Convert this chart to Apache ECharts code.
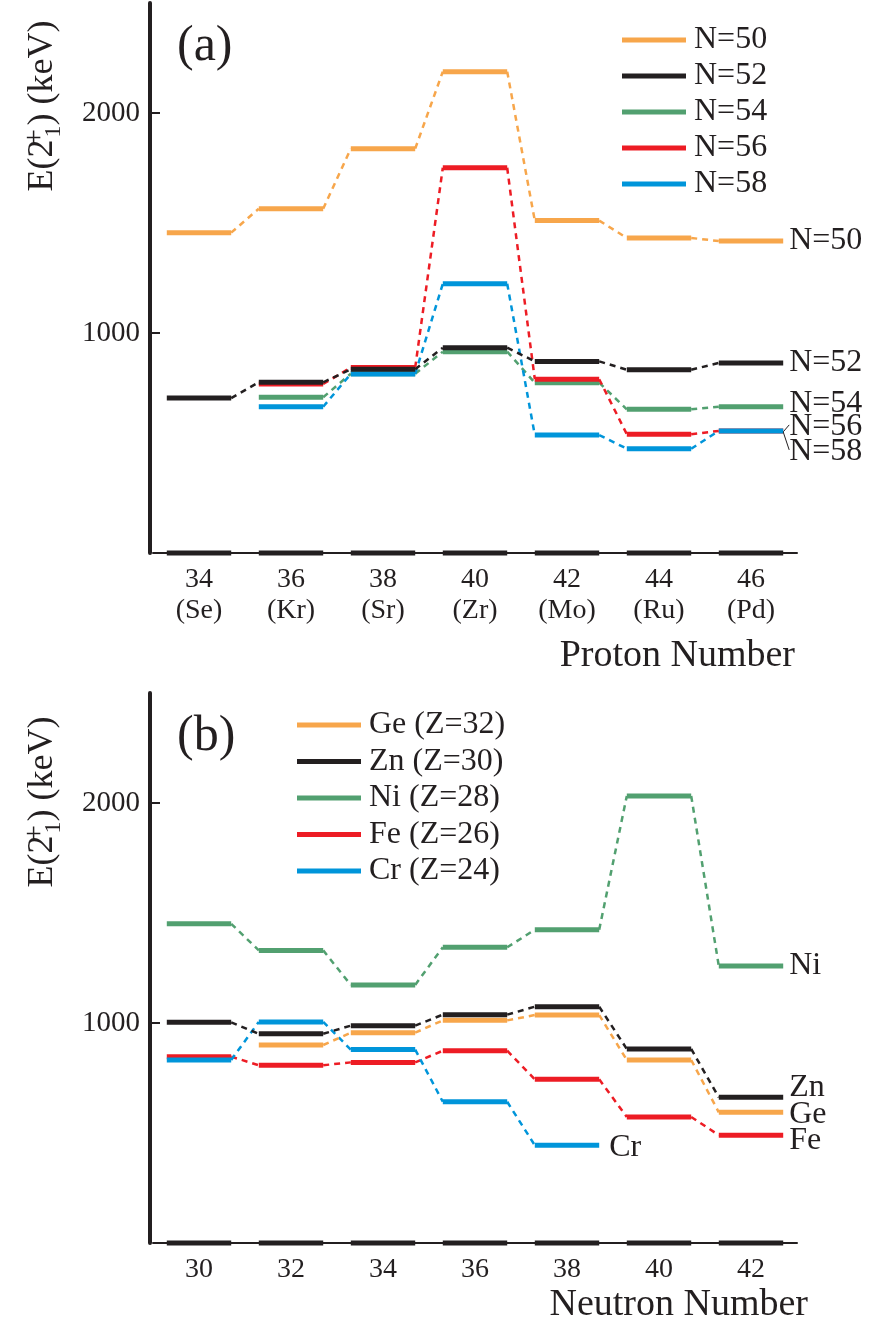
<!DOCTYPE html>
<html>
<head>
<meta charset="utf-8">
<script src="https://cdn.jsdelivr.net/npm/echarts@6/dist/echarts.min.js"></script>
<style>
html,body{margin:0;padding:0;background:#fff;}
#chart{width:871px;height:1324px;}
</style>
</head>
<body>
<div id="chart"></div>
<script>
// ---- data ----
const protonNumbers = ['34', '36', '38', '40', '42', '44', '46'];
const protonElements = ['Se', 'Kr', 'Sr', 'Zr', 'Mo', 'Ru', 'Pd'];
const neutronNumbers = ['30', '32', '34', '36', '38', '40', '42'];
const yTickValues = [1000, 2000];

const N50 = [1456, 1565, 1838, 2188, 1511, 1432, 1418];
const N52 = [704, 776, 835, 933, 871, 833, 864];
const N54 = [null, 708, 815, 915, 774, 653, 665];
const N56 = [null, 768, 843, 1751, 790, 540, 555];
const N58 = [null, 665, 814, 1224, 536, 474, 555];

const Ge = [null, 900, 956, 1012, 1036, 832, 594];
const Zn = [1003, 951, 988, 1038, 1074, 882, 662];
const Ni = [1451, 1330, 1173, 1344, 1424, 2032, 1259];
const Fe = [847, 808, 821, 874, 744, 573, 490];
const Cr = [832, 1005, 879, 642, 444, null, null];

const baseline = [0, 0, 0, 0, 0, 0, 0];

// ---- style ----
const FONT = '"Liberation Serif", "Times New Roman", serif';
const INK = '#231F20';
const C = {orange: '#F7A64B', black: '#231F20', green: '#52A070', red: '#ED1C24', blue: '#0095DA'};

function makeSeries(name, values, color, gi, z, opts) {
  opts = opts || {};
  let last = -1;
  values.forEach((v, i) => { if (v != null) last = i; });
  const data = [];
  values.forEach((v, i) => { if (v != null) data.push([i, v]); });
  return {
    type: 'custom',
    name: name,
    xAxisIndex: gi,
    yAxisIndex: gi,
    coordinateSystem: 'cartesian2d',
    clip: false,
    z: z,
    color: color,
    itemStyle: {color: color},
    data: data,
    renderItem: function (params, api) {
      const i = api.value(0);
      const v = api.value(1);
      const p = api.coord([i, v]);
      const bw = api.size([1, 0])[0];
      const hw = bw * 0.35;
      const children = [{
        type: 'line',
        shape: {x1: p[0] - hw, y1: p[1], x2: p[0] + hw, y2: p[1]},
        style: {stroke: color, lineWidth: opts.width || 5}
      }];
      if (!opts.noLink && i + 1 < values.length && values[i + 1] != null) {
        const q = api.coord([i + 1, values[i + 1]]);
        children.push({
          type: 'line',
          shape: {x1: p[0] + hw, y1: p[1], x2: q[0] - hw, y2: q[1]},
          style: {stroke: color, lineWidth: 2.5, lineDash: [6, 5]}
        });
      }
      if (opts.label && i === last) {
        children.push({
          type: 'text',
          x: p[0] + hw + (opts.gap || 6),
          y: p[1] + (opts.dy || 0),
          style: {text: opts.label, fill: INK, fontSize: 32, fontFamily: FONT, align: 'left', verticalAlign: 'middle'}
        });
        if (opts.leader) {
          children.push({
            type: 'line',
            shape: {x1: p[0] + hw, y1: p[1] + 1, x2: p[0] + hw + 6, y2: p[1] + opts.leader},
            style: {stroke: INK, lineWidth: 1}
          });
        }
      }
      return {type: 'group', children: children};
    }
  };
}

function xAxisFor(gi, cats, withEl) {
  return {
    gridIndex: gi, type: 'category', data: cats, boundaryGap: true,
    axisLine: {show: true, lineStyle: {color: INK, width: 2}},
    axisTick: {show: false},
    splitLine: {show: false},
    axisLabel: {
      color: INK, fontFamily: FONT, fontSize: 28, lineHeight: 31, margin: 11,
      formatter: function (v, idx) { return withEl ? v + '\n(' + protonElements[idx] + ')' : v; }
    }
  };
}
function yAxisFor(gi) {
  return {
    gridIndex: gi, type: 'value', min: 0, max: 2500, offset: 3,
    axisLine: {show: true, lineStyle: {color: INK, width: 4}},
    axisTick: {show: true, inside: true, length: 10, customValues: yTickValues, lineStyle: {color: INK, width: 2}},
    axisLabel: {customValues: yTickValues, color: INK, fontFamily: FONT, fontSize: 29, margin: 10,
      formatter: function (v) { return String(v); }},
    splitLine: {show: false}
  };
}

const legendText = {color: INK, fontFamily: FONT, fontSize: 32, padding: [0, 0, 0, 3]};

function yTitle(x, y) {
  return {
    type: 'text', x: x, y: y, rotation: Math.PI / 2,
    style: {
      text: '{m|E(2}{sp|+}{sb|1}{m|) (keV)}',
      align: 'center', verticalAlign: 'middle',
      rich: {
        m: {fontSize: 36, fontFamily: FONT, fill: INK, lineHeight: 46, verticalAlign: 'middle'},
        sp: {fontSize: 30, fontFamily: FONT, fill: INK, lineHeight: 46, verticalAlign: 'top', width: 0, padding: [0, 0, 0, 2]},
        sb: {fontSize: 24, fontFamily: FONT, fill: INK, lineHeight: 46, verticalAlign: 'bottom'}
      }
    }
  };
}

const option = {
  backgroundColor: '#fff',
  animation: false,
  grid: [
    {left: 153, top: 3, width: 644, height: 550},
    {left: 153, top: 693, width: 644, height: 550}
  ],
  xAxis: [xAxisFor(0, protonNumbers, true), xAxisFor(1, neutronNumbers, false)],
  yAxis: [yAxisFor(0), yAxisFor(1)],
  legend: [
    {data: ['N=50', 'N=52', 'N=54', 'N=56', 'N=58'], orient: 'vertical', left: 617, top: 19,
      icon: 'rect', itemWidth: 64, itemHeight: 5, itemGap: 4, textStyle: legendText, selectedMode: false},
    {data: ['Ge (Z=32)', 'Zn (Z=30)', 'Ni (Z=28)', 'Fe (Z=26)', 'Cr (Z=24)'], orient: 'vertical', left: 292, top: 704,
      icon: 'rect', itemWidth: 64, itemHeight: 5, itemGap: 4.5, textStyle: legendText, selectedMode: false}
  ],
  graphic: [
    {type: 'text', x: 177, y: 47, style: {text: '(a)', fontSize: 50, fontFamily: FONT, fill: INK, verticalAlign: 'middle'}},
    {type: 'text', x: 177, y: 737, style: {text: '(b)', fontSize: 50, fontFamily: FONT, fill: INK, verticalAlign: 'middle'}},
    {type: 'text', x: 795, y: 656, style: {text: 'Proton Number', fontSize: 38, fontFamily: FONT, fill: INK, align: 'right', verticalAlign: 'middle'}},
    {type: 'text', x: 808, y: 1305, style: {text: 'Neutron Number', fontSize: 38, fontFamily: FONT, fill: INK, align: 'right', verticalAlign: 'middle'}},
    yTitle(43, 106),
    yTitle(43, 802)
  ],
  series: [
    makeSeries('baseA', baseline, INK, 0, 1, {noLink: true}),
    makeSeries('baseB', baseline, INK, 1, 1, {noLink: true}),
    makeSeries('N=50', N50, C.orange, 0, 2, {label: 'N=50'}),
    makeSeries('N=54', N54, C.green, 0, 3, {label: 'N=54', dy: -3}),
    makeSeries('N=56', N56, C.red, 0, 4, {label: 'N=56', dy: -4, leader: -6}),
    makeSeries('N=58', N58, C.blue, 0, 5, {label: 'N=58', dy: 21, leader: 19}),
    makeSeries('N=52', N52, C.black, 0, 6, {label: 'N=52'}),
    makeSeries('Ni (Z=28)', Ni, C.green, 1, 2, {label: 'Ni'}),
    makeSeries('Fe (Z=26)', Fe, C.red, 1, 3, {label: 'Fe', dy: 5}),
    makeSeries('Cr (Z=24)', Cr, C.blue, 1, 4, {label: 'Cr', gap: 10, dy: 2}),
    makeSeries('Ge (Z=32)', Ge, C.orange, 1, 5, {label: 'Ge', dy: 2}),
    makeSeries('Zn (Z=30)', Zn, C.black, 1, 6, {label: 'Zn', dy: -10})
  ]
};

const chart = echarts.init(document.getElementById('chart'), null, {renderer: 'canvas'});
chart.setOption(option);
</script>
</body>
</html>
